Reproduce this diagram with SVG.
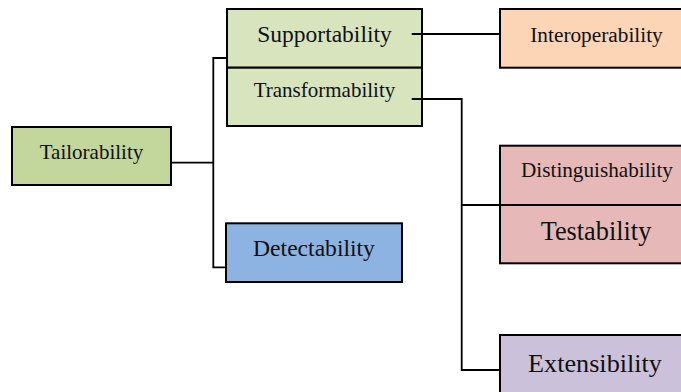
<svg xmlns="http://www.w3.org/2000/svg" width="681" height="392" viewBox="0 0 681 392">
  <style>
    .box { stroke: #000; stroke-width: 2; }
    .lbl { font-family: "Liberation Serif", "Times New Roman", serif; fill: #111; text-anchor: middle; }
    .conn { fill: none; stroke: #000; stroke-width: 1.8; }
  </style>
  <rect width="681" height="392" fill="#fff"/>

  <g id="tailorability">
    <rect class="box" x="12" y="127" width="159" height="58" fill="#c3d69b"/>
    <text class="lbl" x="91.5" y="159" font-size="21">Tailorability</text>
  </g>

  <g id="supportability">
    <rect class="box" x="227" y="9" width="195" height="58.7" fill="#d7e4bd"/>
    <text class="lbl" x="324.5" y="42" font-size="23.5">Supportability</text>
  </g>

  <g id="transformability">
    <rect class="box" x="227" y="67.7" width="195" height="58.3" fill="#d7e4bd"/>
    <text class="lbl" x="324.5" y="97" font-size="21">Transformability</text>
  </g>

  <g id="interoperability">
    <rect class="box" x="500" y="9" width="194" height="58.7" fill="#fbd5b5"/>
    <text class="lbl" x="596.5" y="42" font-size="21.3">Interoperability</text>
  </g>

  <g id="distinguishability">
    <rect class="box" x="500" y="145.7" width="194" height="59.3" fill="#e6b9b8"/>
    <text class="lbl" x="597" y="177" font-size="21.2">Distinguishability</text>
  </g>

  <g id="testability">
    <rect class="box" x="500" y="205" width="194" height="58.3" fill="#e6b9b8"/>
    <text class="lbl" x="596" y="240" font-size="26.3">Testability</text>
  </g>

  <g id="detectability">
    <rect class="box" x="226" y="223.3" width="176" height="58.7" fill="#8db3e2"/>
    <text class="lbl" x="314" y="256" font-size="23.6">Detectability</text>
  </g>

  <g id="extensibility">
    <rect class="box" x="500" y="335" width="194" height="70" fill="#ccc1da"/>
    <text class="lbl" x="595" y="372" font-size="26.2">Extensibility</text>
  </g>

  <!-- connectors, drawn over the boxes so the stubs inside them stay visible -->
  <g id="connectors" class="conn">
    <polyline points="171,162.7 213.3,162.7"/>
    <polyline points="227,58 213.3,58 213.3,267.3 226,267.3"/>
    <polyline points="411.7,34 500,34"/>
    <polyline points="411.7,99 461.7,99 461.7,370 500,370"/>
    <polyline points="461.7,205 500,205"/>
  </g>
</svg>
